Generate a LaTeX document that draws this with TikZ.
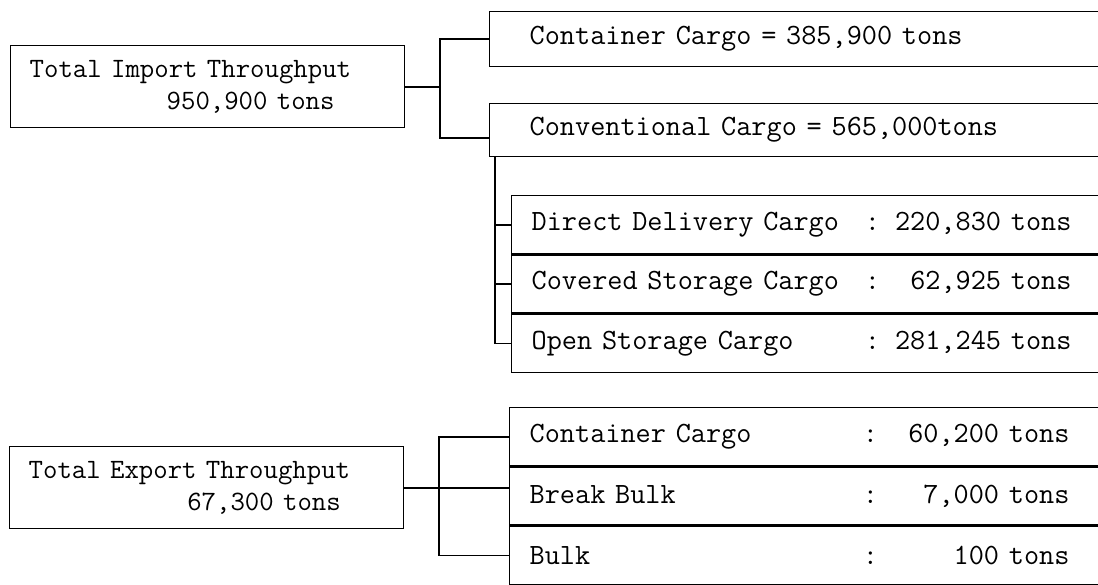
\documentclass[tikz,border=0pt]{standalone}
\usepackage{tikz}
\usetikzlibrary{positioning}

\newcommand{\totfont}{\fontsize{28}{32}\selectfont\ttfamily}
\newcommand{\rowfont}{\fontsize{29.4}{34}\selectfont\ttfamily}
% width of one typewriter column in the current font
\newlength{\colw}
% blank of n typewriter columns
\newcommand{\tgap}[1]{\settowidth{\colw}{x}\hspace*{#1\colw}}
% label, colon in column 23, amount flush right
\newcommand{\entry}[2]{\settowidth{\colw}{x}%
  \makebox[22\colw][l]{#1}:\makebox[8\colw][r]{#2} tons}

\begin{document}
\begin{tikzpicture}[x=1pt, y=-1pt,
    tot/.style={draw, line width=1.4pt, anchor=north west, align=left,
                text width=356pt, inner xsep=19pt, minimum height=82pt,
                font=\totfont},
    row/.style={draw, line width=1.4pt, anchor=north west, align=left,
                text width=620pt, inner xsep=20pt, minimum height=58pt,
                font=\rowfont},
    conn/.style={line width=1.6pt}
  ]
  \useasboundingbox (0,0) rectangle (1098,584);
  \clip (0,0) rectangle (1098,584);

  % import side
  \node[tot] (imp) at (10,45) {Total Import Throughput\\\tgap{9.5}950,900 tons};
  \node[row, inner xsep=40pt, minimum height=55pt] (ctr) at (489,11) {Container Cargo = 385,900 tons};
  \node[row, inner xsep=40pt, minimum height=53pt] (conv) at (489,103) {Conventional Cargo = 565,000tons};
  \node[row] (r1) at (511,195) {\entry{Direct Delivery Cargo}{220,830}};
  \node[row, below=0pt of r1] (r2) {\entry{Covered Storage Cargo}{62,925}};
  \node[row, below=0pt of r2] (r3) {\entry{Open Storage Cargo}{281,245}};

  \coordinate (ibus) at (440,0);
  \draw[conn] (imp.east) -- (imp.east -| ibus);
  \draw[conn] (ctr.west) -- (ctr.west -| ibus) -- ([yshift=-8pt]conv.west -| ibus) -- ([yshift=-8pt]conv.west);

  \coordinate (cbus) at (495,0);
  \draw[conn, line width=2.4pt] (conv.south -| cbus) -- (r3.west -| cbus);
  \foreach \r in {r1,r2,r3}
    \draw[conn] (\r.west -| cbus) -- (\r.west);

  % export side
  \node[tot] (exp) at (9,446) {Total Export Throughput\\\tgap{11}67,300 tons};
  \node[row] (e1) at (509,407) {\entry{Container Cargo}{60,200}};
  \node[row, below=0pt of e1] (e2) {\entry{Break Bulk}{7,000}};
  \node[row, below=0pt of e2] (e3) {\entry{Bulk}{100}};

  \coordinate (ebus) at (439,0);
  \draw[conn] (exp.east) -- (exp.east -| e2.west);
  \draw[conn] (e1.west) -- (e1.west -| ebus) -- (e3.west -| ebus) -- (e3.west);
\end{tikzpicture}
\end{document}
